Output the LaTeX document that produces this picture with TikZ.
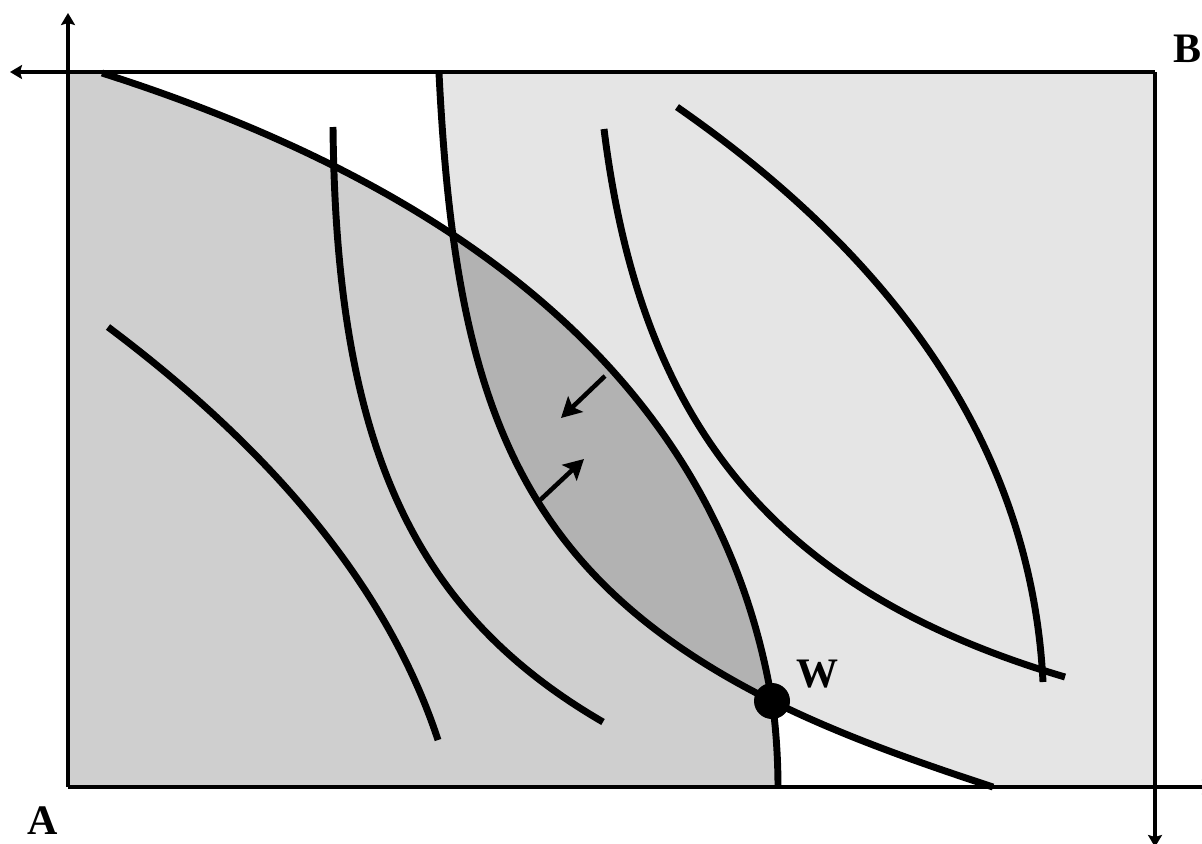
\documentclass[tikz,border=0pt]{standalone}
\usepackage{fontspec}
\setmainfont{Liberation Serif}
\usetikzlibrary{arrows.meta}
\definecolor{lightfill}{gray}{0.9}
\definecolor{midfill}{gray}{0.81}
\definecolor{darkfill}{gray}{0.70}
\tikzset{
  axisline/.style={line width=2.6pt, -{Stealth[length=9pt,width=10.5pt,inset=1.5pt]}},
  curve/.style={line width=5.2pt},
  movearrow/.style={line width=3.4pt, -{Stealth[length=15pt,width=16pt,inset=3pt]}},
  lbl/.style={font=\fontsize{31.5}{36}\selectfont\bfseries, inner sep=0pt, anchor=base},
}
\begin{document}
\begin{tikzpicture}[x=0.75pt,y=-0.75pt]
\useasboundingbox (0,0) rectangle (1202,843);
% regions
\fill[lightfill] (439,72) -- (439,73) .. controls (455,396) and (514,572) .. (772,701) .. controls (842,736) and (923,764) .. (993,787) -- (1155,787) -- (1155,72) -- cycle;
\fill[midfill] (68,72) -- (102,72) -- (102,73) .. controls (500,200) and (723,409) .. (772,701) .. controls (776,726) and (778,760) .. (778,787) -- (68,787) -- cycle;
\begin{scope}
\clip (68,72) -- (102,72) -- (102,73) .. controls (500,200) and (723,409) .. (772,701) .. controls (776,726) and (778,760) .. (778,787) -- (68,787) -- cycle;
\fill[darkfill] (439,72) -- (439,73) .. controls (455,396) and (514,572) .. (772,701) .. controls (842,736) and (923,764) .. (993,787) -- (1155,787) -- (1155,72) -- cycle;
\end{scope}
% axes and box
\coordinate (Aorig) at (68,787);
\coordinate (Borig) at (1155,72);
\coordinate (Aup) at (68,13);
\coordinate (Bleft) at (10,72);
\coordinate (Bdown) at (1155,847);
\coordinate (Aright) at (1214,787);
\draw[axisline] (Aorig) -- (Aup);
\draw[axisline] (Borig) -- (Bleft);
\draw[axisline] (Borig) -- (Bdown);
\draw[axisline] (Aorig) -- (Aright);
% indifference curves
\draw[curve] (102,73) .. controls (500,200) and (723,409) .. (772,701) .. controls (776,726) and (778,760) .. (778,787);
\draw[curve] (439,73) .. controls (455,396) and (514,572) .. (772,701) .. controls (842,736) and (923,764) .. (993,787);
\draw[curve] (108,327) .. controls (280,456) and (390,594) .. (438,740);
\draw[curve] (333,127) .. controls (336,440) and (410,610) .. (603,722);
\draw[curve] (604,129) .. controls (640,420) and (770,590) .. (1065,677);
\draw[curve] (677,107) .. controls (910,269) and (1032,461) .. (1043,682);
% arrows
\coordinate (m1s) at (605,376);
\coordinate (m1e) at (561,418);
\coordinate (m2s) at (537,503);
\coordinate (m2e) at (584,459);
\draw[movearrow] (m1s) -- (m1e);
\draw[movearrow] (m2s) -- (m2e);
% point W
\node[circle, fill=black, inner sep=0pt, minimum size=27pt] (wdot) at (772,701) {};
% labels
\node[lbl] (labB) at (1187,62) {B};
\node[lbl] (labA) at (43,834) {A};
\node[lbl] (labW) at (817,687) {W};
\end{tikzpicture}
\end{document}
